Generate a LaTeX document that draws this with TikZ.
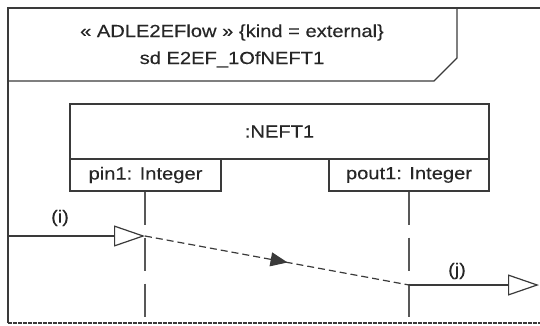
\documentclass[tikz,border=0pt]{standalone}
\usepackage{fontspec}
\setmainfont{Liberation Sans}[FakeStretch=1.15,FakeBold=0.3]
\usetikzlibrary{arrows.meta,decorations.markings}
\definecolor{ln}{HTML}{3A3A3A}
\definecolor{tx}{HTML}{262626}
\begin{document}
\begin{tikzpicture}[x=1pt,y=-1pt,
  every node/.style={text=tx,font=\fontsize{17.5}{20}\selectfont},
  framestroke/.style={draw=ln,line width=1.3pt},
  bottomline/.style={draw=ln,line width=1.3pt,dash pattern=on 4pt off 1pt},
  boxnode/.style={draw=ln,line width=1.3pt,inner sep=0pt},
  lifeline/.style={draw=ln!85,line width=1.5pt,dash pattern=on 33pt off 13pt},
  msgline/.style={draw=ln,line width=1.2pt},
  opentip/.style={-{Triangle[open,length=31pt,width=21pt,fill=white]}},
  flowline/.style={draw=ln,line width=1.2pt,dash pattern=on 7pt off 4pt,
    postaction={decorate},
    decoration={markings,mark=at position 0.54 with {\arrow{Triangle[length=17pt,width=14pt]}}}},
]
\useasboundingbox (0,0) rectangle (540,325);
% frame
\draw[framestroke] (540,8) -- (8,8) -- (8,323);
\draw[bottomline] (8,323) -- (540,323);
\draw[framestroke] (8,81) -- (434,81) -- (457,58) -- (457,8);
\node[anchor=base] (t1) at (232,37) {« ADLE2EFlow » \{kind = external\}};
\node[anchor=base] (t2) at (232,64) {sd E2EF\_1OfNEFT1};
% boxes
\node[boxnode,minimum width=419pt,minimum height=55pt] (neft) at (279.5,131.5) {:NEFT1};
\node[boxnode,minimum width=151pt,minimum height=32pt] (pin) at (145.5,175) {pin1: Integer};
\node[boxnode,minimum width=160pt,minimum height=32pt] (pout) at (409,175) {pout1: Integer};
% lifelines
\coordinate (pinend) at (145,318);
\coordinate (poutend) at (409,318);
\draw[lifeline] (pinend |- pin.south) -- (pinend);
\draw[lifeline] (poutend |- pout.south) -- (poutend);
% messages
\coordinate (istart) at (8,236);
\coordinate (ievt) at (145,236);
\coordinate (jevt) at (409,285);
\coordinate (jend) at (539,285);
\draw[flowline] (ievt) -- (jevt);
\draw[msgline,opentip] (istart) -- (ievt);
\draw[msgline,opentip] (jevt) -- (jend);
\node (ilab) at (60,218) {(i)};
\node (jlab) at (457,271) {(j)};
\end{tikzpicture}
\end{document}
